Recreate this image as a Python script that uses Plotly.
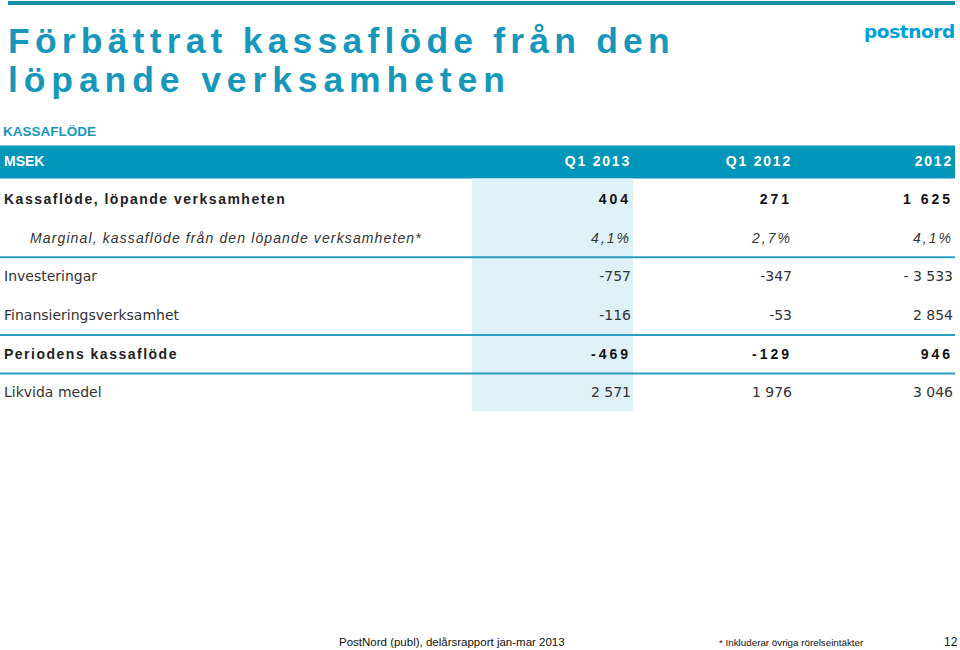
import plotly.graph_objects as go

# ---------------- data ----------------
title_lines = ["Förbättrat kassaflöde från den", "löpande verksamheten"]
section_label = "KASSAFLÖDE"
unit_label = "MSEK"
logo_text = "postnord"
periods = ["Q1 2013", "Q1 2012", "2012"]
row_labels = [
    "Kassaflöde, löpande verksamheten",
    "Marginal, kassaflöde från den löpande verksamheten*",
    "Investeringar",
    "Finansieringsverksamhet",
    "Periodens kassaflöde",
    "Likvida medel",
]
row_kinds = ["bold", "italic", "normal", "normal", "bold", "normal"]
q1_2013 = ["404", "4,1%", "-757", "-116", "-469", "2 571"]
q1_2012 = ["271", "2,7%", "-347", "-53", "-129", "1 976"]
fy_2012 = ["1 625", "4,1%", "- 3 533", "2 854", "946", "3 046"]
footer_source = "PostNord (publ), delårsrapport jan-mar 2013"
footer_note = "* Inkluderar övriga rörelseintäkter"
page_number = "12"

# ---------------- layout constants ----------------
W, H = 960, 650
ROW_PX = 38.6          # pixel height of a row
HEADER_PX = 162        # pixel centre of header row (row index 0)
Y_TOP = -HEADER_PX / ROW_PX
Y_BOT = (H - HEADER_PX) / ROW_PX
col_right = [631, 792, 953]
TEAL = "#1798BB"
BAND = "#0096B9"
SHADE = "#DDF1F7"
LINE = "#2A9FBF"

ARIAL = "Liberation Sans, Arial, sans-serif"
VERD = "DejaVu Sans, Verdana, sans-serif"

styles = {
    "bold": dict(family=ARIAL, size=14, color="#222222", lab_ls=1.5, num_ls=3.0, tag="b"),
    "italic": dict(family=ARIAL, size=14, color="#333333", lab_ls=1.12, num_ls=2.0, tag="i"),
    "normal": dict(family=VERD, size=14, color="#333333", lab_ls=0, num_ls=0, tag=None),
}


def fmt(txt, ls, tag):
    s = txt
    if tag:
        s = f"<{tag}>{s}</{tag}>"
    if ls:
        s = f"<span style='letter-spacing:{ls}px'>{s}</span>"
    return s


def py(p):  # pixel y -> paper
    return 1 - p / H


rows = list(range(1, len(row_labels) + 1))
label_x = [30 if k == "italic" else 4 for k in row_kinds]

fig = go.Figure()

# label column
fig.add_trace(go.Scatter(
    x=label_x, y=rows, mode="text",
    text=[fmt(t, styles[k]["lab_ls"], styles[k]["tag"]) for t, k in zip(row_labels, row_kinds)],
    textposition="middle right",
    textfont=dict(family=[styles[k]["family"] for k in row_kinds],
                  size=[styles[k]["size"] for k in row_kinds],
                  color=[styles[k]["color"] for k in row_kinds]),
    hoverinfo="skip", showlegend=False, cliponaxis=False,
))

# value columns
for xr, vals in zip(col_right, [q1_2013, q1_2012, fy_2012]):
    fig.add_trace(go.Scatter(
        x=[xr] * len(vals), y=rows, mode="text",
        text=[fmt(v, styles[k]["num_ls"], styles[k]["tag"]) for v, k in zip(vals, row_kinds)],
        textposition="middle left",
        textfont=dict(family=[styles[k]["family"] for k in row_kinds],
                      size=[styles[k]["size"] for k in row_kinds],
                      color=["#111111" if k == "bold" else styles[k]["color"] for k in row_kinds]),
        hoverinfo="skip", showlegend=False, cliponaxis=False,
    ))

# header row
fig.add_trace(go.Scatter(
    x=[4], y=[0], mode="text", text=[f"<b>{unit_label}</b>"],
    textposition="middle right",
    textfont=dict(family=ARIAL, size=14, color="white"),
    hoverinfo="skip", showlegend=False, cliponaxis=False,
))
fig.add_trace(go.Scatter(
    x=col_right, y=[0] * len(periods), mode="text",
    text=[fmt(p, 1.8, "b") for p in periods],
    textposition="middle left",
    textfont=dict(family=ARIAL, size=14, color="white"),
    hoverinfo="skip", showlegend=False, cliponaxis=False,
))

shapes = [
    # top rule
    dict(type="rect", xref="x", yref="paper", x0=8, x1=955, y0=py(1), y1=py(5),
         fillcolor="#168FAA", line_width=0, layer="below"),
    # header band
    dict(type="rect", xref="x", yref="y", x0=0, x1=955, y0=-0.43, y1=0.43,
         fillcolor=BAND, line_width=0, layer="below"),
    # shaded current-period column
    dict(type="rect", xref="x", yref="y", x0=472, x1=633, y0=0.43, y1=6.45,
         fillcolor=SHADE, line_width=0, layer="below"),
]
for yl in [2.47, 4.48, 5.48]:
    shapes.append(dict(type="line", xref="x", yref="y", x0=0, x1=955, y0=yl, y1=yl,
                       line=dict(color=LINE, width=2), layer="above"))

annotations = [
    dict(text=fmt(title_lines[0], 5.2, "b"), x=6, y=py(41), xref="x", yref="paper",
         xanchor="left", yanchor="middle", showarrow=False,
         font=dict(family=ARIAL, size=35.5, color=TEAL)),
    dict(text=fmt(title_lines[1], 5.9, "b"), x=6, y=py(79.5), xref="x", yref="paper",
         xanchor="left", yanchor="middle", showarrow=False,
         font=dict(family=ARIAL, size=35.5, color=TEAL)),
    dict(text=f"<b>{section_label}</b>", x=1, y=py(131), xref="x", yref="paper",
         xanchor="left", yanchor="middle", showarrow=False,
         font=dict(family=ARIAL, size=13.5, color=TEAL)),
    dict(text=fmt(logo_text, -0.4, "b"), x=957, y=py(31), xref="x", yref="paper",
         xanchor="right", yanchor="middle", showarrow=False,
         font=dict(family="DejaVu Sans", size=18.5, color="#00A0D6")),
    dict(text=footer_source, x=452, y=py(642), xref="x", yref="paper",
         xanchor="center", yanchor="middle", showarrow=False,
         font=dict(family=ARIAL, size=11.5, color="#111111")),
    dict(text=footer_note, x=791, y=py(642), xref="x", yref="paper",
         xanchor="center", yanchor="middle", showarrow=False,
         font=dict(family=ARIAL, size=9.8, color="#111111")),
    dict(text=page_number, x=960, y=py(642), xref="x", yref="paper",
         xanchor="right", yanchor="middle", showarrow=False,
         font=dict(family=ARIAL, size=12, color="#111111")),
]

fig.update_layout(
    width=W, height=H,
    margin=dict(l=0, r=0, t=0, b=0),
    paper_bgcolor="white", plot_bgcolor="white",
    xaxis=dict(range=[0, W], visible=False, fixedrange=True),
    yaxis=dict(range=[Y_BOT, Y_TOP], visible=False, fixedrange=True),
    shapes=shapes, annotations=annotations,
    showlegend=False,
)

fig.write_html(
    "out.html",
    config={"displayModeBar": False},
    post_script="document.body.style.margin='0';document.body.style.overflow='hidden';",
)
